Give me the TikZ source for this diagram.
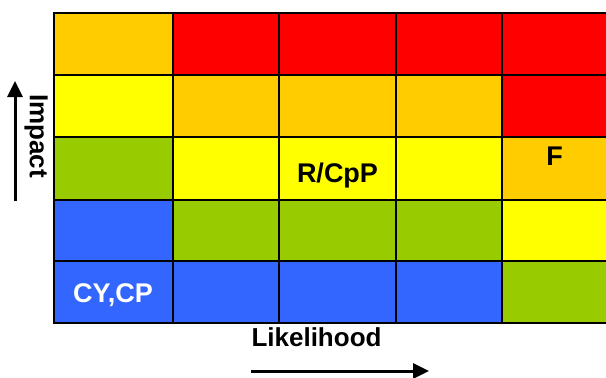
\documentclass[tikz,border=0pt]{standalone}
\usepackage{fontspec}
\setmainfont{Liberation Sans}
\usepackage{xcolor}
\usetikzlibrary{arrows.meta}
\definecolor{riskred}{HTML}{FF0000}
\definecolor{riskorange}{HTML}{FFCC00}
\definecolor{riskyellow}{HTML}{FFFF00}
\definecolor{riskgreen}{HTML}{99CC00}
\definecolor{riskblue}{HTML}{3366FF}
\tikzset{
  cell/.style = {draw=black, line width=2pt},
  celltext/.style = {inner sep=0pt, anchor=base,
                     font=\fontsize{27}{27}\selectfont\bfseries},
  axistext/.style = {inner sep=0pt,
                     font=\fontsize{26}{26}\selectfont\bfseries},
  axisarrow/.style = {line width=3pt, -{Triangle[length=16pt,width=15pt]}}
}

\begin{document}
\begin{tikzpicture}[x=1pt,y=-1pt]
	\useasboundingbox (0,0) rectangle (606,378);
	% column edges
	\def\ca{53.5}
	\def\cb{173}
	\def\cc{279}
	\def\cd{396}
	\def\ce{502}
	\def\cf{607}
	% row edges
	\def\ra{13}
	\def\rb{75}
	\def\rc{137}
	\def\rd{200}
	\def\re{261}
	\def\rf{323}
	
	% Row 1 (top)
	\filldraw[cell, fill=riskorange] (\ca,\ra) rectangle (\cb,\rb);
	\filldraw[cell, fill=riskred]    (\cb,\ra) rectangle (\cc,\rb);
	\filldraw[cell, fill=riskred]    (\cc,\ra) rectangle (\cd,\rb);
	\filldraw[cell, fill=riskred]    (\cd,\ra) rectangle (\ce,\rb);
	\filldraw[cell, fill=riskred]    (\ce,\ra) rectangle (\cf,\rb);
	
	% Row 2
	\filldraw[cell, fill=riskyellow] (\ca,\rb) rectangle (\cb,\rc);
	\filldraw[cell, fill=riskorange] (\cb,\rb) rectangle (\cc,\rc);
	\filldraw[cell, fill=riskorange] (\cc,\rb) rectangle (\cd,\rc);
	\filldraw[cell, fill=riskorange] (\cd,\rb) rectangle (\ce,\rc);
	\filldraw[cell, fill=riskred]    (\ce,\rb) rectangle (\cf,\rc);
	
	% Row 3
	\filldraw[cell, fill=riskgreen]  (\ca,\rc) rectangle (\cb,\rd);
	\filldraw[cell, fill=riskyellow] (\cb,\rc) rectangle (\cc,\rd);
	\filldraw[cell, fill=riskyellow] (\cc,\rc) rectangle (\cd,\rd);
	\filldraw[cell, fill=riskyellow] (\cd,\rc) rectangle (\ce,\rd);
	\filldraw[cell, fill=riskorange] (\ce,\rc) rectangle (\cf,\rd);
	
	% Row 4
	\filldraw[cell, fill=riskblue]   (\ca,\rd) rectangle (\cb,\re);
	\filldraw[cell, fill=riskgreen]  (\cb,\rd) rectangle (\cc,\re);
	\filldraw[cell, fill=riskgreen]  (\cc,\rd) rectangle (\cd,\re);
	\filldraw[cell, fill=riskgreen]  (\cd,\rd) rectangle (\ce,\re);
	\filldraw[cell, fill=riskyellow] (\ce,\rd) rectangle (\cf,\re);
	
	% Row 5 (bottom)
	\filldraw[cell, fill=riskblue]   (\ca,\re) rectangle (\cb,\rf);
	\filldraw[cell, fill=riskblue]   (\cb,\re) rectangle (\cc,\rf);
	\filldraw[cell, fill=riskblue]   (\cc,\re) rectangle (\cd,\rf);
	\filldraw[cell, fill=riskblue]   (\cd,\re) rectangle (\ce,\rf);
	\filldraw[cell, fill=riskgreen]  (\ce,\re) rectangle (\cf,\rf);
	
	% Labels in cells
	\node[celltext] (rcpp) at (337.5,182) {R/CpP};
	\node[celltext] (f) at (554.5,165) {F};
	\node[celltext, text=white] (cycp) at (113,302) {CY,CP};
	
	% Axes
	\node[axistext, anchor=base] (likelihood) at (316.5,346.5) {Likelihood};
	\node[axistext, rotate=-90] (impact) at (36,136) {Impact};
	\coordinate (likestart) at (251,371);
	\coordinate (likeend) at (429,371);
	\coordinate (impstart) at (15,201);
	\coordinate (impend) at (15,81);
	\draw[axisarrow] (likestart) -- (likeend);
	\draw[axisarrow] (impstart) -- (impend);
	
\end{tikzpicture}
\end{document}
